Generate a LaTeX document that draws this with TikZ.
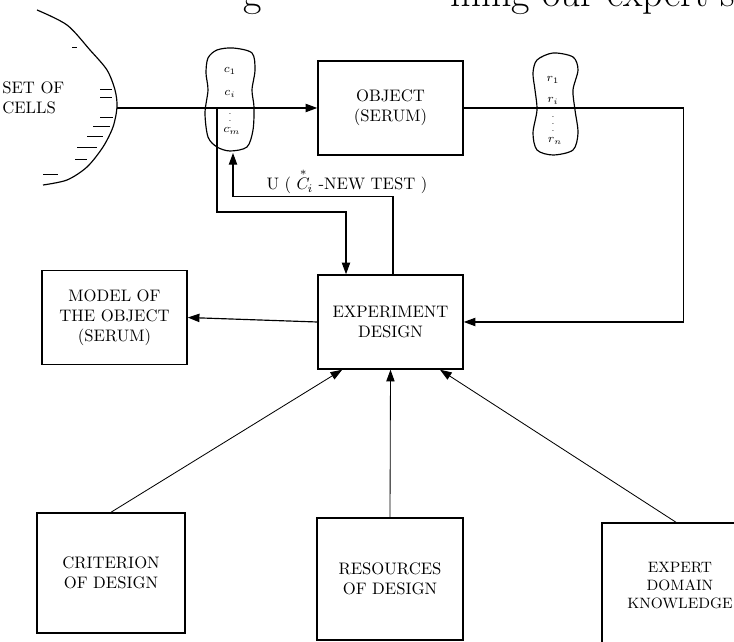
\documentclass[tikz,border=0pt]{standalone}
\usepackage{amsmath}
\usepackage{tikz}
\usetikzlibrary{arrows.meta, positioning, calc}

\begin{document}
\begin{tikzpicture}[x=0.6pt, y=-0.6pt,
  box/.style={draw, line width=0.9pt, minimum width=87pt, minimum height=56.4pt, align=center, inner sep=2pt},
  link/.style={line width=0.7pt},
  arr/.style={link, -{Triangle[length=7pt, width=5pt]}},
  feed/.style={line width=0.5pt, -{Triangle[length=7pt, width=5pt]}},
  tag/.style={font=\scriptsize, inner sep=0pt}]
  \useasboundingbox (0,0) rectangle (734,642);
  \begin{scope}
  \clip (0,0) rectangle (734,642);
  % Page text cut by the top edge
  \node[anchor=base west, inner sep=0pt, font=\fontsize{24}{28}\selectfont] (pg1) at (243,7) {g};
  \node[anchor=base west, inner sep=0pt, font=\fontsize{24}{28}\selectfont] (pg2) at (450,7) {ming our expert system};
  % Set of cells
  \draw[link] plot[smooth] coordinates {(37,10) (67,25) (90,50) (107,70) (115,90) (117,107) (113,127) (103,147) (87,167) (67,180) (43,185)};
  \foreach \xa/\xb/\yy in {72/77/48, 100/112/90, 100/112/98, 100/113/118, 93/110/127, 87/103/137, 77/97/148, 75/87/160, 43/58/175} {
    \draw[line width=0.6pt] (\xa,\yy) -- (\xb,\yy);
  }
  \node[anchor=west, align=left, inner sep=0pt] (cells) at (2,98) {SET OF\\CELLS};
  \coordinate (rim) at (117,108);
  % Test sets
  \draw[link] plot[smooth cycle] coordinates {(208,58) (217,50) (233,48) (252,53) (255,70) (252,90) (254,107) (253,130) (247,147) (230,151) (217,147) (208,137) (205,113) (208,90) (206,73)};
  \node[tag] (c1) at (230,71) {$c_1$};
  \node[tag] (ci) at (230,94) {$c_i$};
  \node[tag, font=\tiny] (cdots) at (230,116) {$\vdots$};
  \node[tag] (cm) at (232,131) {$c_m$};
  \coordinate (tap) at (217,108);
  \coordinate (cbot) at (233,153);
  \draw[link] plot[smooth cycle] coordinates {(537,60) (553,53) (573,57) (578,70) (573,90) (575,110) (578,133) (573,150) (553,155) (537,150) (533,133) (537,110) (535,90) (533,73)};
  \node[tag] (r1) at (553,80) {$r_1$};
  \node[tag] (ri) at (553,101) {$r_i$};
  \node[tag, font=\tiny] (rdots) at (553,119) {$\vdots$};
  \node[tag] (rn) at (555,141) {$r_n$};
  % Boxes
  \node[box] (obj) at (390.5,108) {OBJECT\\(SERUM)};
  \node[box] (exp) at (390.5,322) {EXPERIMENT\\DESIGN};
  \node[box] (model) at (114.5,317.5) {MODEL OF\\THE OBJECT\\(SERUM)};
  \node[box, minimum width=88.8pt, minimum height=72pt] (crit) at (111,573) {CRITERION\\OF DESIGN};
  \node[box, minimum width=87.6pt, minimum height=73.2pt] (res) at (390,579) {RESOURCES\\OF DESIGN};
  \node[box, font=\small, minimum width=93.6pt, minimum height=75pt] (expert) at (680,585.5) {EXPERT\\DOMAIN\\KNOWLEDGE};
  % Connectors
  \draw[arr] (rim) -- (obj.west);
  \draw[arr] (tap) -- ++(0,104) -| ([xshift=-26.7pt]exp.north);
  \draw[arr] ([xshift=1.5pt]exp.north) -- ++(0,-78) -| (cbot);
  \node (utest) at (347,181) {U ( $\overset{*}{C}_{\!i}$ -NEW TEST )};
  \draw[arr] (obj.east) -- ++(220,0) |- (exp.east);
  \draw[arr] (exp.west) -- (model.east);
  \draw[feed] (crit.north) -- ([xshift=-29pt]exp.south);
  \draw[feed] (res.north) -- (exp.south);
  \draw[feed] ([xshift=-2.4pt]expert.north) -- ([xshift=29.7pt]exp.south);
  \end{scope}
\end{tikzpicture}
\end{document}
